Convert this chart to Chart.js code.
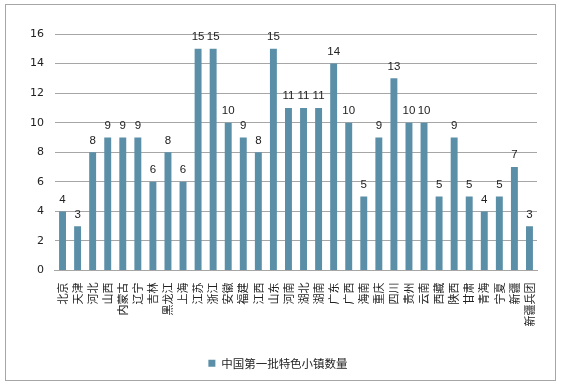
<!DOCTYPE html>
<html>
<head>
<meta charset="utf-8">
<script src="https://cdn.jsdelivr.net/npm/chart.js@4"></script>
<style>
  html, body { margin: 0; padding: 0; background: #fff; }
  #frame { position: absolute; left: 5px; top: 4px; width: 551px; height: 377px; border: 1px solid #a6a6a6; box-sizing: border-box; }
  #wrap { position: absolute; left: 0; top: 0; width: 565px; height: 386px; }
</style>
</head>
<body>
<div id="frame"></div>
<div id="wrap"><canvas id="chart"></canvas></div>
<script>
const provinces = ['北京', '天津', '河北', '山西', '内蒙古', '辽宁', '吉林', '黑龙江', '上海', '江苏', '浙江', '安徽', '福建', '江西', '山东', '河南', '湖北', '湖南', '广东', '广西', '海南', '重庆', '四川', '贵州', '云南', '西藏', '陕西', '甘肃', '青海', '宁夏', '新疆', '新疆兵团'];
const townCounts = [4, 3, 8, 9, 9, 9, 6, 8, 6, 15, 15, 10, 9, 8, 15, 11, 11, 11, 14, 10, 5, 9, 13, 10, 10, 5, 9, 5, 4, 5, 7, 3];
const seriesName = '中国第一批特色小镇数量';
const yTicks = [0, 2, 4, 6, 8, 10, 12, 14, 16];

// value labels above each bar
const barValues = {
  id: 'barValues',
  afterDatasetsDraw(chart) {
    const ctx = chart.ctx;
    const meta = chart.getDatasetMeta(0);
    ctx.save();
    ctx.fillStyle = '#222';
    ctx.font = '11.5px "Liberation Sans", sans-serif';
    ctx.textAlign = 'center';
    ctx.textBaseline = 'bottom';
    meta.data.forEach((bar, i) => {
      ctx.fillText(String(townCounts[i]), bar.x, bar.y - 6);
    });
    ctx.restore();
  }
};

new Chart(document.getElementById('chart'), {
  type: 'bar',
  data: {
    labels: provinces,
    datasets: [{
      label: seriesName,
      data: townCounts,
      backgroundColor: '#5b8fa8',
      barPercentage: 0.46,
      categoryPercentage: 1
    }]
  },
  options: {
    responsive: true,
    maintainAspectRatio: false,
    animation: false,
    layout: { padding: { left: 19, right: 28, top: 34, bottom: 7 } },
    plugins: {
      legend: {
        position: 'bottom',
        labels: {
          color: '#222',
          font: { family: '"Noto Sans CJK SC", sans-serif', size: 11.5 },
          boxWidth: 7,
          boxHeight: 7,
          padding: 27
        }
      },
      tooltip: { enabled: false }
    },
    scales: {
      x: {
        grid: { display: false },
        border: { color: '#a6a6a6' },
        ticks: {
          color: '#222',
          maxRotation: 90,
          minRotation: 90,
          autoSkip: false,
          padding: 4,
          font: { family: '"Noto Sans CJK SC", sans-serif', size: 11 }
        }
      },
      y: {
        min: 0,
        max: 16,
        afterBuildTicks: axis => { axis.ticks = yTicks.map(v => ({ value: v })); },
        grid: { color: '#a6a6a6', drawTicks: false },
        border: { display: false },
        ticks: {
          color: '#222',
          padding: 11,
          font: { family: '"DejaVu Sans", sans-serif', size: 11 }
        }
      }
    }
  },
  plugins: [barValues]
});
</script>
</body>
</html>
